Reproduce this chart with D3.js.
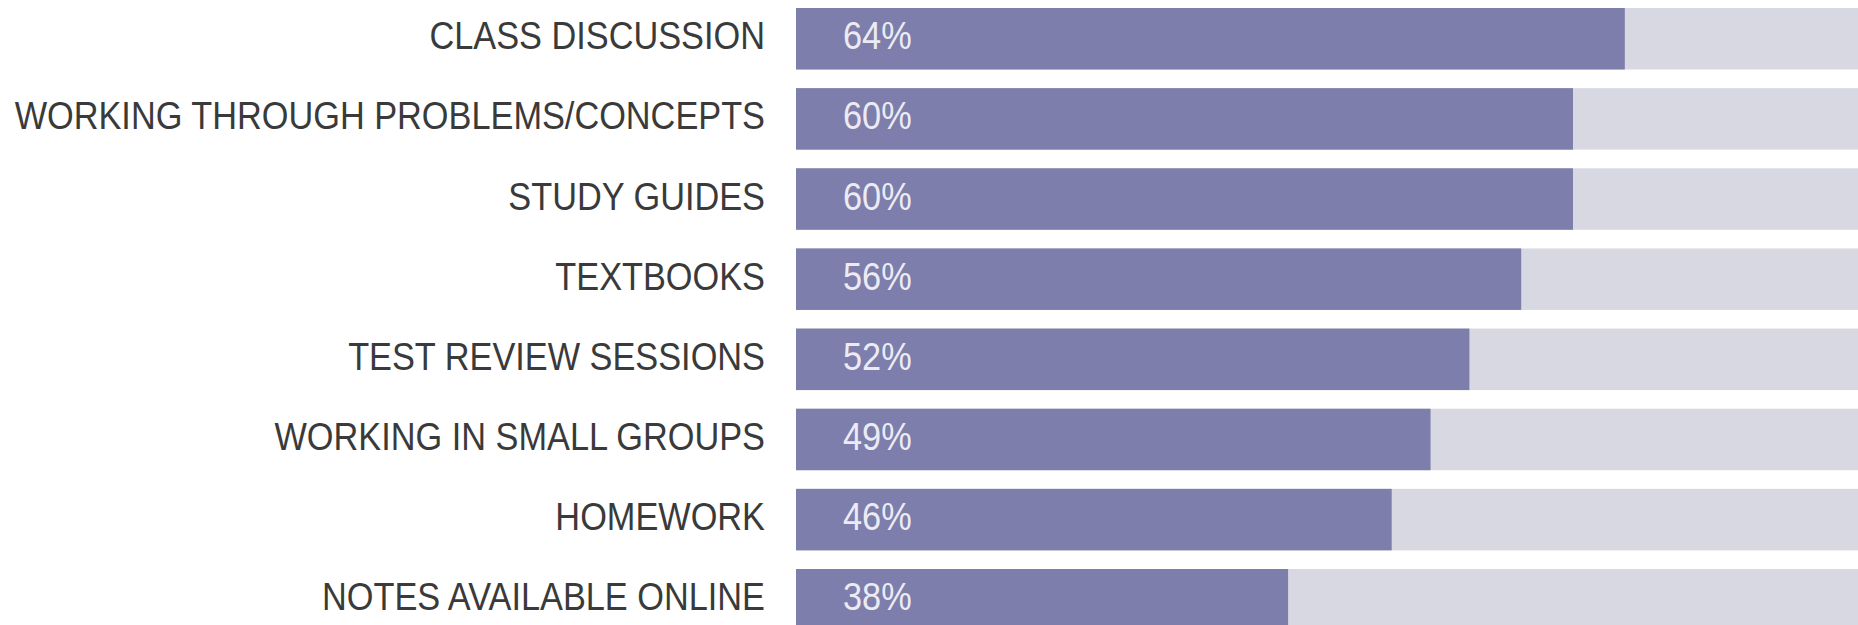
<!DOCTYPE html>
<html>
<head>
<meta charset="utf-8">
<script src="https://cdn.jsdelivr.net/npm/d3@7"></script>
<style>
  html, body { margin: 0; padding: 0; background: #ffffff; overflow: hidden; }
  svg { display: block; }
</style>
</head>
<body>
<div id="chart"></div>
<script>
const categories = [
  "CLASS DISCUSSION",
  "WORKING THROUGH PROBLEMS/CONCEPTS",
  "STUDY GUIDES",
  "TEXTBOOKS",
  "TEST REVIEW SESSIONS",
  "WORKING IN SMALL GROUPS",
  "HOMEWORK",
  "NOTES AVAILABLE ONLINE"
];
const values = [64, 60, 60, 56, 52, 49, 46, 38];
const trackMax = 100;

const W = 1858, H = 625;
const svg = d3.select("#chart").append("svg")
  .attr("width", W).attr("height", H);

const x = d3.scaleLinear().domain([0, trackMax]).range([796, 2091]);
const y = d3.scaleBand().domain(categories).range([8, 630.5])
  .paddingInner(0.2326).paddingOuter(0);

const data = categories.map((c, i) => ({ cat: c, v: values[i] }));
const bw = y.bandwidth();
const fontStack = "'Liberation Sans', Arial, 'Noto Sans', sans-serif";
const squeeze = 0.88;

// tracks
svg.append("g").selectAll("rect").data(data).join("rect")
  .attr("x", x(0)).attr("y", d => y(d.cat))
  .attr("width", x(trackMax) - x(0)).attr("height", bw)
  .attr("fill", "#d8d8e2");

// bars
svg.append("g").selectAll("rect").data(data).join("rect")
  .attr("x", x(0)).attr("y", d => y(d.cat))
  .attr("width", d => x(d.v) - x(0)).attr("height", bw)
  .attr("fill", "#7d7eab");

// category labels
svg.append("g").selectAll("text").data(data).join("text")
  .attr("transform", d => `translate(765,${y(d.cat) + bw / 2 + 10.5}) scale(${squeeze},1)`)
  .attr("text-anchor", "end")
  .attr("font-family", fontStack)
  .attr("font-size", 39)
  .attr("fill", "#3a3a3a")
  .text(d => d.cat);

// value labels
svg.append("g").selectAll("text").data(data).join("text")
  .attr("transform", d => `translate(${x(0) + 47},${y(d.cat) + bw / 2 + 10.5}) scale(${squeeze},1)`)
  .attr("text-anchor", "start")
  .attr("font-family", fontStack)
  .attr("font-size", 39)
  .attr("fill", "#ecebf3")
  .text(d => d.v + "%");
</script>
</body>
</html>
